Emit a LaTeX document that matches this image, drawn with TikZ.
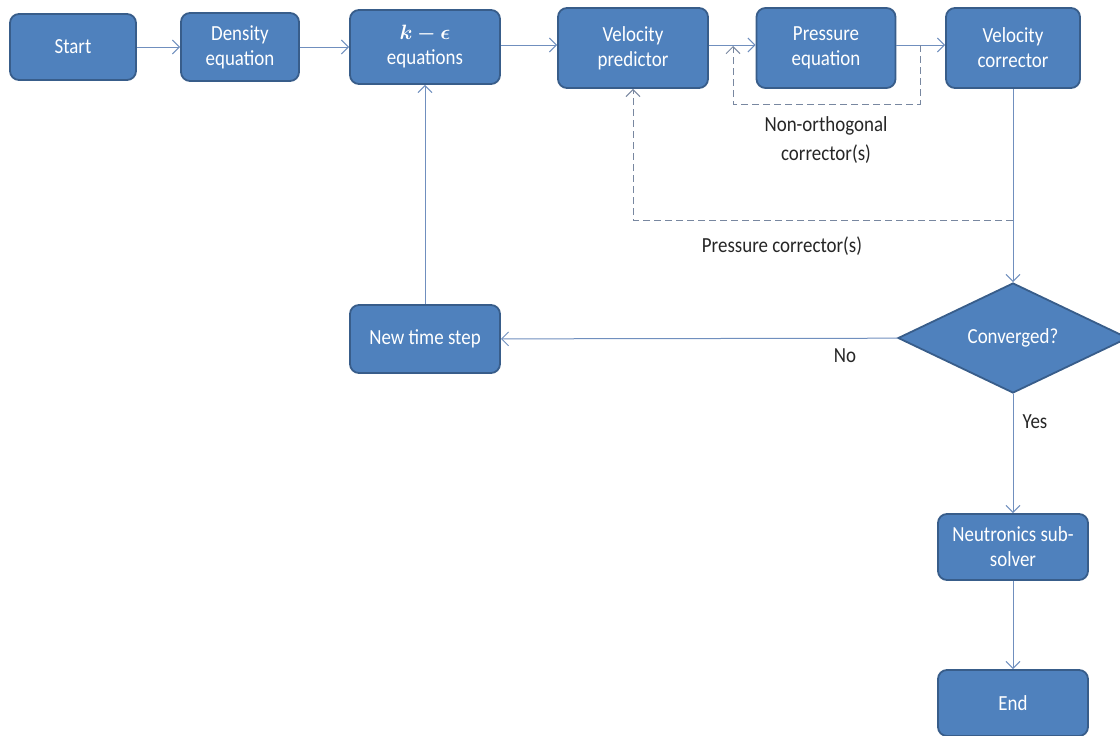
\documentclass[tikz,border=0pt]{standalone}
\usepackage{bm}
\usepackage{fontspec}
\setmainfont[FakeStretch=0.88]{Carlito}
\usetikzlibrary{shapes.geometric,arrows.meta}
\definecolor{boxfill}{RGB}{79,129,189}
\definecolor{boxedge}{RGB}{56,93,138}
\definecolor{linec}{RGB}{112,143,190}
\definecolor{dashc}{RGB}{120,135,160}
\tikzset{
  x=1pt, y=-1pt,
  stepbox/.style={draw=boxedge, line width=1.8pt, fill=boxfill, rounded corners=9pt,
    text=white, align=center, inner sep=2pt,
    font=\fontsize{21.5}{25}\selectfont},
  decbox/.style={diamond, draw=boxedge, line width=1.8pt, fill=boxfill, text=white,
    inner sep=0pt, minimum width=230pt, minimum height=110pt, aspect=2.09,
    font=\fontsize{21.5}{25}\selectfont},
  flow/.style={draw=linec, line width=1pt, -{Straight Barb[length=7pt,width=14pt]}},
  loop/.style={draw=dashc, line width=1pt, dash pattern=on 7pt off 4pt,
    -{Straight Barb[length=7pt,width=14pt]}},
  lbl/.style={text=black!85, align=center, font=\fontsize{21.5}{29}\selectfont}
}
\begin{document}
\begin{tikzpicture}
\useasboundingbox (0,0) rectangle (1120,736);
\node[stepbox, minimum width=126pt, minimum height=66pt] (start) at (73,47) {Start};
\node[stepbox, minimum width=118pt, minimum height=68pt] (dens) at (240,47) {Density\\equation};
\node[stepbox, minimum width=150pt, minimum height=74pt] (keps) at (425,47) {$\bm{k-\epsilon}$\\equations};
\node[stepbox, minimum width=150pt, minimum height=80pt] (vp) at (633,48) {Velocity\\predictor};
\node[stepbox, minimum width=139pt, minimum height=80pt] (pe) at (826,48) {Pressure\\equation};
\node[stepbox, minimum width=134pt, minimum height=80pt] (vc) at (1013,48) {Velocity\\corrector};
\node[decbox] (conv) at (1013,338) {Converged?};
\node[stepbox, minimum width=150pt, minimum height=68pt] (nts) at (425,339) {New time step};
\node[stepbox, minimum width=150pt, minimum height=66pt] (neu) at (1013,547) {Neutronics sub-\\solver};
\node[stepbox, minimum width=150pt, minimum height=66pt] (end) at (1013,703) {End};

\node[lbl] (nolbl) at (826,140) {Non-orthogonal\\corrector(s)};
\node[lbl] (pclbl) at (782,246) {Pressure corrector(s)};
\node[lbl] (no) at (845,356) {No};
\node[lbl] (yes) at (1035,422) {Yes};

\coordinate (row) at (0,45);
\draw[flow] (start) -- (dens);
\draw[flow] (dens) -- (keps);
\draw[flow] (keps.east |- row) -- (vp.west |- row);
\draw[flow] (vp.east |- row) -- (pe.west |- row);
\draw[flow] (pe.east |- row) -- (vc.west |- row);
\draw[flow] (vc) -- (conv);
\draw[flow] (conv) -- (nts);
\draw[flow] (nts) -- (keps);
\draw[flow] (conv) -- (neu);
\draw[flow] (neu) -- (end);

\coordinate (na) at (920,45);
\coordinate (nb) at (733,46);
\coordinate (pc) at (1013,220);
\draw[loop] (na) -- (920,104) -| (nb);
\draw[loop] (pc) -| (vp.south);
\end{tikzpicture}
\end{document}
